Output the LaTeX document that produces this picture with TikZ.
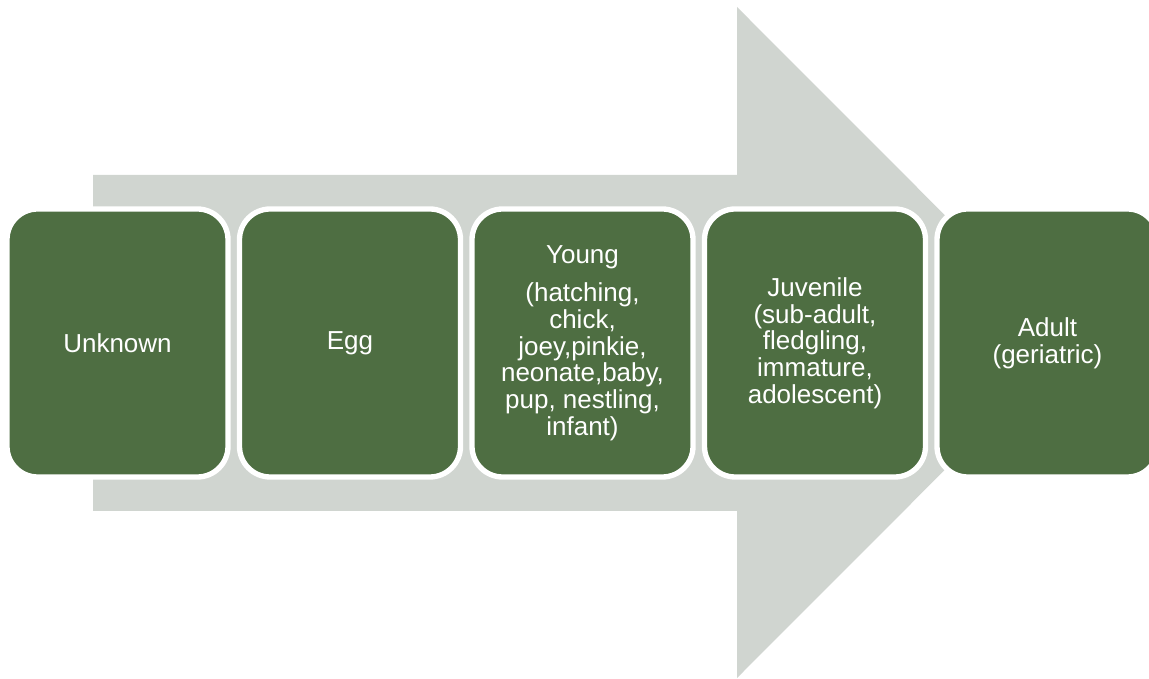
\documentclass[tikz,border=0pt]{standalone}
\usepackage{fontspec}
\setmainfont{Liberation Sans}
\usepackage{tikz}

\definecolor{stagegreen}{RGB}{78,110,66}
\definecolor{arrowgrey}{RGB}{208,213,208}

\tikzset{
  stage/.style={draw=white, line width=4pt, fill=stagegreen,
    rounded corners=23pt, minimum width=165.75pt, minimum height=201pt,
    inner sep=0pt, outer sep=0pt, align=center, text=white,
    font=\fontsize{19.5}{20}\selectfont}
}

\begin{document}
\begin{tikzpicture}[x=0.75pt, y=0.75pt]
    \useasboundingbox (0, 0) rectangle (1149, 678);
    \clip (0, 0) rectangle (1149, 678);

    % Strzalka w tle
    \fill[arrowgrey] (93, 503) -- (737, 503) -- (737, 671) -- (1072, 335.5)
    -- (737, 0) -- (737, 167) -- (93, 167) -- cycle;



    % Etapy
    \node[stage] (unknown) at (117.5, 335) {Unknown};

    \node[stage] (egg) at (350, 335) {Egg};

    \node[stage] (young) at (582.5, 335) {Young\\[9pt](hatching,\\chick,\\
    joey,pinkie,\\neonate,baby,\\pup, nestling,\\infant)};

    \node[stage] (juvenile) at (815, 335) {Juvenile\\(sub-adult,\\fledgling,\\
    immature,\\adolescent)};

    \node[stage] (adult) at (1047.5, 335) {Adult\\(geriatric)};
  \end{tikzpicture}
\end{document}
